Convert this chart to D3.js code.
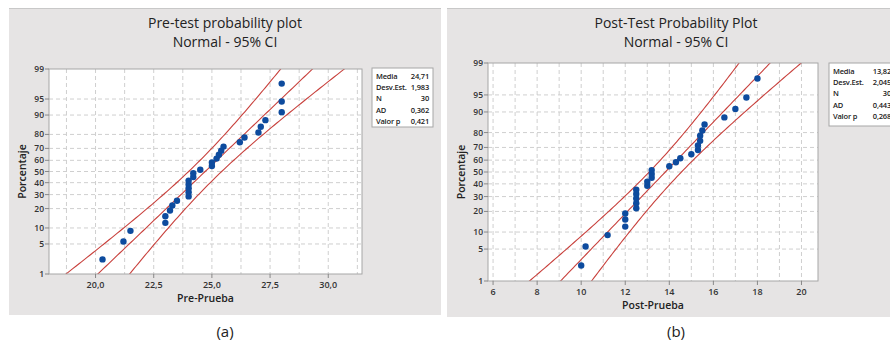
<!DOCTYPE html>
<html>
<head>
<meta charset="utf-8">
<script src="https://cdn.jsdelivr.net/npm/d3@7"></script>
<style>
body{margin:0;background:#fff;}
svg{display:block;font-family:"Open Sans",sans-serif;}
</style>
</head>
<body>
<svg id="chart" width="890" height="343"></svg>
<script>
// percent axis ticks and median-rank plotting positions (n = 30)
var pctTicks = [1,5,10,20,30,40,50,60,70,80,90,95,99];
var plotPct = [2.3,5.6,8.9,12.2,15.5,18.8,22.0,25.3,28.6,31.9,35.2,38.5,41.8,45.1,48.4,
               51.6,54.9,58.2,61.5,64.8,68.1,71.4,74.7,78.0,81.2,84.5,87.8,91.1,94.4,97.7];

// Pre-Prueba scores (sorted)
var preValues = [20.3,21.2,21.5,23.0,23.0,23.2,23.3,23.5,24.0,24.0,24.0,24.0,24.0,24.2,24.2,
                 24.5,25.0,25.0,25.2,25.3,25.4,25.5,26.2,26.4,27.0,27.1,27.3,28.0,28.0,28.0];
var preTicks = [20,22.5,25,27.5,30];
var preStatValues = ["24,71","1,983","30","0,362","0,421"];

// Post-Prueba scores (sorted)
var postValues = [10.0,10.2,11.2,12.0,12.0,12.0,12.5,12.5,12.5,12.5,12.5,13.0,13.0,13.2,13.2,
                  13.2,14.0,14.3,14.5,15.0,15.3,15.3,15.4,15.4,15.5,15.6,16.5,17.0,17.5,18.0];
var postTicks = [6,8,10,12,14,16,18,20];
var postStatValues = ["13,82","2,045","30","0,443","0,268"];

var statLabels = ["Media","Desv.Est.","N","AD","Valor p"];

var svg = d3.select("#chart");
var fmt1 = function(v){ return d3.format(".1f")(v).replace(".",","); };
var fmt0 = function(v){ return String(v); };

// inverse normal cdf (Acklam)
function qnorm(p){
    var a=[-39.69683028665376,220.9460984245205,-275.9285104469687,138.3577518672690,-30.66479806614716,2.506628277459239];
    var b=[-54.47609879822406,161.5858368580409,-155.6989798598866,66.80131188771972,-13.28068155288572];
    var c=[-0.007784894002430293,-0.3223964580411365,-2.400758277161838,-2.549732539343734,4.374664141464968,2.938163982698783];
    var d=[0.007784695709041462,0.3224671290700398,2.445134137142996,3.754408661907416];
    var q,r;
    if(p<0.02425){
        q=Math.sqrt(-2*Math.log(p));
        return (((((c[0]*q+c[1])*q+c[2])*q+c[3])*q+c[4])*q+c[5])/((((d[0]*q+d[1])*q+d[2])*q+d[3])*q+1);
    }
    if(p>1-0.02425){
        q=Math.sqrt(-2*Math.log(1-p));
        return -(((((c[0]*q+c[1])*q+c[2])*q+c[3])*q+c[4])*q+c[5])/((((d[0]*q+d[1])*q+d[2])*q+d[3])*q+1);
    }
    q=p-0.5; r=q*q;
    return (((((a[0]*r+a[1])*r+a[2])*r+a[3])*r+a[4])*r+a[5])*q/(((((b[0]*r+b[1])*r+b[2])*r+b[3])*r+b[4])*r+1);
}

function drawPanel(cfg){
    var g = svg.append("g");
    g.append("rect")
        .attr("x",cfg.bx).attr("y",cfg.by)
        .attr("width",cfg.bw).attr("height",cfg.bh)
        .attr("fill","#e6e4e4");
    g.append("line")
        .attr("x1",cfg.bx).attr("x2",cfg.bx+cfg.bw)
        .attr("y1",cfg.by+0.5).attr("y2",cfg.by+0.5)
        .attr("stroke","#c8c8c8");

    g.append("text")
        .attr("x",cfg.cx).attr("y",28)
        .attr("text-anchor","middle")
        .attr("font-size",14).attr("fill","#222")
        .text(cfg.title);
    g.append("text")
        .attr("x",cfg.cx).attr("y",47)
        .attr("text-anchor","middle")
        .attr("font-size",14).attr("fill","#222")
        .text("Normal - 95% CI");

    var x = d3.scaleLinear().domain(cfg.domain).range([cfg.x0,cfg.x1]);
    var zMax = qnorm(0.99);
    var y = d3.scaleLinear().domain([-zMax,zMax]).range([cfg.y1,cfg.y0]);
    var yp = function(p){ return y(qnorm(p/100)); };

    g.append("rect")
        .attr("x",cfg.x0).attr("y",cfg.y0)
        .attr("width",cfg.x1-cfg.x0).attr("height",cfg.y1-cfg.y0)
        .attr("fill","#fff");

    // grid
    g.selectAll(".vg").data(cfg.grid).enter().append("line")
        .attr("x1",function(d){return x(d);}).attr("x2",function(d){return x(d);})
        .attr("y1",cfg.y0).attr("y2",cfg.y1)
        .attr("stroke","#cfcfcf").attr("stroke-dasharray","4,3");
    g.selectAll(".hg").data(pctTicks.slice(1,-1)).enter().append("line")
        .attr("x1",cfg.x0).attr("x2",cfg.x1)
        .attr("y1",function(d){return yp(d);}).attr("y2",function(d){return yp(d);})
        .attr("stroke","#cfcfcf").attr("stroke-dasharray","4,3");

    // fitted line and 95% CI
    var clipId = "clip"+cfg.id;
    g.append("clipPath").attr("id",clipId).append("rect")
        .attr("x",cfg.x0).attr("y",cfg.y0)
        .attr("width",cfg.x1-cfg.x0).attr("height",cfg.y1-cfg.y0);
    var zs = d3.range(-3.2,3.21,0.05);
    var n = cfg.values.length;
    var band = function(k){
        return zs.map(function(z){
            var se = cfg.sd*Math.sqrt((1+z*z/2)/n);
            return [cfg.mean+z*cfg.sd+k*1.96*se, z];
        });
    };
    var line = d3.line().x(function(d){return x(d[0]);}).y(function(d){return y(d[1]);});
    [-1,0,1].forEach(function(k){
        g.append("path")
            .attr("d",line(band(k)))
            .attr("clip-path","url(#"+clipId+")")
            .attr("fill","none").attr("stroke","#c8403c").attr("stroke-width",1.1);
    });

    // points
    g.selectAll(".pt").data(cfg.values).enter().append("circle")
        .attr("cx",function(d){return x(d);})
        .attr("cy",function(d,i){return yp(plotPct[i]);})
        .attr("r",3.2)
        .attr("fill","#0d4b9e");

    g.append("rect")
        .attr("x",cfg.x0).attr("y",cfg.y0)
        .attr("width",cfg.x1-cfg.x0).attr("height",cfg.y1-cfg.y0)
        .attr("fill","none").attr("stroke","#a6a6a6");

    // y axis ticks
    g.selectAll(".yt").data(pctTicks).enter().append("line")
        .attr("x1",cfg.x0-4).attr("x2",cfg.x0)
        .attr("y1",function(d){return yp(d);}).attr("y2",function(d){return yp(d);})
        .attr("stroke","#888");
    g.selectAll(".yl").data(pctTicks).enter().append("text")
        .attr("x",cfg.x0-5)
        .attr("y",function(d){return yp(d)+3;})
        .attr("text-anchor","end")
        .attr("font-size",8.5).attr("font-weight",600).attr("fill","#333")
        .text(function(d){return d;});

    // x axis ticks
    g.selectAll(".xt").data(cfg.ticks).enter().append("line")
        .attr("x1",function(d){return x(d);}).attr("x2",function(d){return x(d);})
        .attr("y1",cfg.y1).attr("y2",cfg.y1+4)
        .attr("stroke","#888");
    g.selectAll(".xl").data(cfg.ticks).enter().append("text")
        .attr("x",function(d){return x(d);})
        .attr("y",cfg.y1+14)
        .attr("text-anchor","middle")
        .attr("font-size",9).attr("font-weight",600).attr("fill","#333")
        .text(function(d){return cfg.fmt(d);});

    g.append("text")
        .attr("x",(cfg.x0+cfg.x1)/2).attr("y",cfg.y1+28)
        .attr("text-anchor","middle")
        .attr("font-size",10.5).attr("font-weight",600).attr("fill","#222")
        .text(cfg.xlabel);
    g.append("text")
        .attr("transform","translate("+cfg.ylx+","+((cfg.y0+cfg.y1)/2)+") rotate(-90)")
        .attr("text-anchor","middle")
        .attr("font-size",10.5).attr("font-weight",600).attr("fill","#222")
        .text("Porcentaje");

    // stats box
    g.append("rect")
        .attr("x",cfg.lx).attr("y",cfg.ly)
        .attr("width",cfg.lw).attr("height",cfg.lh)
        .attr("fill","#fff").attr("stroke","#a6a6a6");
    g.selectAll(".sl").data(statLabels).enter().append("text")
        .attr("x",cfg.lx+4)
        .attr("y",function(d,i){return cfg.ly+11+i*11.2;})
        .attr("font-size",7.5).attr("font-weight",600).attr("fill","#222")
        .attr("letter-spacing",-0.2)
        .text(function(d){return d;});
    g.selectAll(".sv").data(cfg.stats).enter().append("text")
        .attr("x",cfg.lvx)
        .attr("y",function(d,i){return cfg.ly+11+i*11.2;})
        .attr("text-anchor","end")
        .attr("font-size",7.5).attr("font-weight",600).attr("fill","#222")
        .attr("letter-spacing",-0.2)
        .text(function(d){return d;});

    svg.append("text")
        .attr("x",cfg.cx).attr("y",337)
        .attr("text-anchor","middle")
        .attr("font-size",15).attr("fill","#222")
        .text(cfg.tag);
}

drawPanel({
    id:"a", title:"Pre-test probability plot", xlabel:"Pre-Prueba", tag:"(a)",
    bx:9, by:8, bw:432, bh:307, cx:225,
    x0:49, x1:362, y0:69, y1:274, ylx:26,
    domain:[18,31.45], grid:d3.range(18.75,31.3,1.25), ticks:preTicks, fmt:fmt1,
    values:preValues, mean:24.71, sd:1.983, stats:preStatValues,
    lx:372, ly:68, lw:61, lh:59, lvx:429
});
drawPanel({
    id:"b", title:"Post-Test Probability Plot", xlabel:"Post-Prueba", tag:"(b)",
    bx:447, by:8, bw:443, bh:309, cx:676,
    x0:488, x1:818, y0:63, y1:281, ylx:465,
    domain:[5.77,20.75], grid:d3.range(6,20.5,1), ticks:postTicks, fmt:fmt0,
    values:postValues, mean:13.82, sd:2.045, stats:postStatValues,
    lx:829, ly:63, lw:70, lh:63, lvx:891
});
</script>
</body>
</html>
